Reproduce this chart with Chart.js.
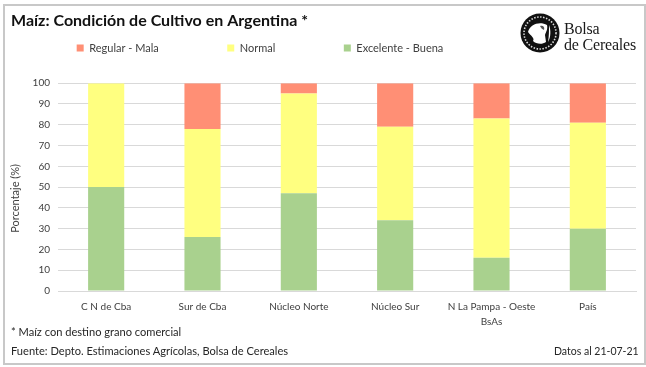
<!DOCTYPE html>
<html>
<head>
<meta charset="utf-8">
<style>
  html, body { margin: 0; padding: 0; background: #fff; }
  #wrap { position: relative; width: 646px; height: 367px; overflow: hidden; font-family: Lato, sans-serif; }
  #frame { position: absolute; left: 3px; top: 4px; width: 639px; height: 357px; border: 2px solid #c8c8c8; box-sizing: content-box; }
  canvas { position: absolute; left: 0; top: 0; }
  .note { position: absolute; font-size: 11.1px; color: #262626; white-space: nowrap; }
  #logoText { position: absolute; left: 564px; top: 21px; font-family: "Liberation Serif", serif; font-size: 16px; line-height: 16px; color: #1a1a1a; letter-spacing: -0.2px; }
  #logo { position: absolute; left: 520px; top: 13px; }
</style>
</head>
<body>
<div id="wrap">
  <div id="frame"></div>
  <canvas id="chart" width="646" height="367"></canvas>
  <svg id="logo" width="40" height="40" viewBox="0 0 40 40">
    <circle cx="20" cy="20" r="19.5" fill="#111"/>
    <circle cx="20" cy="20" r="16" fill="none" stroke="#ddd" stroke-width="1.6" stroke-dasharray="1.5 1.5"/>
    <circle cx="20" cy="20" r="13.5" fill="#111"/>
    <path d="M8 19 C10 11 20 8 27 12 C28 16 26 19 25 22 L26 29 C22 32 16 31 13 28 C15 25 11 23 8 19 Z" fill="#fff"/>
    <path d="M20 13 C23 12 25 14 24 17 C22 16 21 15 20 13 Z" fill="#555"/>
    <path d="M29 12 C31 17 31 24 28 29 C29 23 29 18 29 12 Z" fill="#fff"/>
  </svg>
  <div id="logoText">Bolsa<br>de Cereales</div>
  <div class="note" style="left:11px;top:325px">* Maíz con destino grano comercial</div>
  <div class="note" style="left:11px;top:344px">Fuente: Depto. Estimaciones Agrícolas, Bolsa de Cereales</div>
  <div class="note" style="left:554px;top:344px;font-size:10.5px;line-height:14px">Datos al 21-07-21</div>
</div>
<script src="https://cdn.jsdelivr.net/npm/chart.js@4/dist/chart.umd.min.js"></script>
<script>
const categories = ['C N de Cba', 'Sur de Cba', 'Núcleo Norte', 'Núcleo Sur', ['N La Pampa - Oeste', 'BsAs'], 'País'];
const excelente = [50, 26, 47, 34, 16, 30];
const normal = [50, 52, 48, 45, 67, 51];
const regular = [0, 22, 5, 21, 17, 19];

// legend and title sit off the default spots, so move their boxes by hand
const boxShift = {
  id: 'boxShift',
  beforeLayout(chart) {
    const legend = chart.legend;
    if (!legend.fitPatched) {
      const fit = legend.fit;
      legend.fit = function () {
        fit.call(this);
        this.height = 49;
      };
      legend.fitPatched = true;
    }
  },
  afterLayout(chart) {
    chart.legend.left = -200;
    chart.legend.right = 720;
    chart.legend.top = -26;
    chart.titleBlock.left = 11;
  }
};

new Chart(document.getElementById('chart'), {
  type: 'bar',
  data: {
    labels: categories,
    datasets: [
      { label: 'Excelente - Buena', data: excelente, backgroundColor: '#A9D18E' },
      { label: 'Normal', data: normal, backgroundColor: '#FFFF80' },
      { label: 'Regular - Mala', data: regular, backgroundColor: '#FF8F75' }
    ]
  },
  options: {
    responsive: false,
    animation: false,
    datasets: { bar: { barPercentage: 0.375, categoryPercentage: 1 } },
    layout: { padding: { right: 10, left: 0, top: 0, bottom: 0 } },
    plugins: {
      tooltip: { enabled: false },
      title: {
        display: true,
        text: 'Maíz: Condición de Cultivo en Argentina *',
        align: 'start',
        color: '#111',
        font: { family: 'Lato', size: 16, weight: 'bold' },
        padding: { top: 11, bottom: 4 },
      },
      legend: {
        position: 'top',
        reverse: true,
        labels: {
          boxWidth: 7,
          boxHeight: 7,
          padding: 68.5,
          color: '#404040',
          font: { family: 'Lato', size: 11 },
        }
      }
    },
    scales: {
      x: {
        stacked: true,
        afterFit(s) { s.height = 76; },
        grid: { drawOnChartArea: false, drawTicks: false, color: '#D9D9D9' },
        border: { color: '#D9D9D9' },
        ticks: { color: '#404040', font: { family: 'Lato', size: 10, lineHeight: 1.5 }, padding: 8, maxRotation: 0 }
      },
      y: {
        stacked: true,
        min: 0,
        max: 100,
        afterFit(s) { s.width = 58; },
        grid: { color: '#D9D9D9', drawTicks: false },
        border: { display: false },
        ticks: { stepSize: 10, color: '#404040', font: { family: 'Lato', size: 10 }, padding: 8 },
        // trailing spaces push the centred label down to where the original has it
        title: { display: true, text: 'Porcentaje (%)        ', color: '#404040', font: { family: 'Lato', size: 11 }, padding: { top: 9, bottom: 0 } }
      }
    }
  },
  plugins: [boxShift]
});
</script>
</body>
</html>
